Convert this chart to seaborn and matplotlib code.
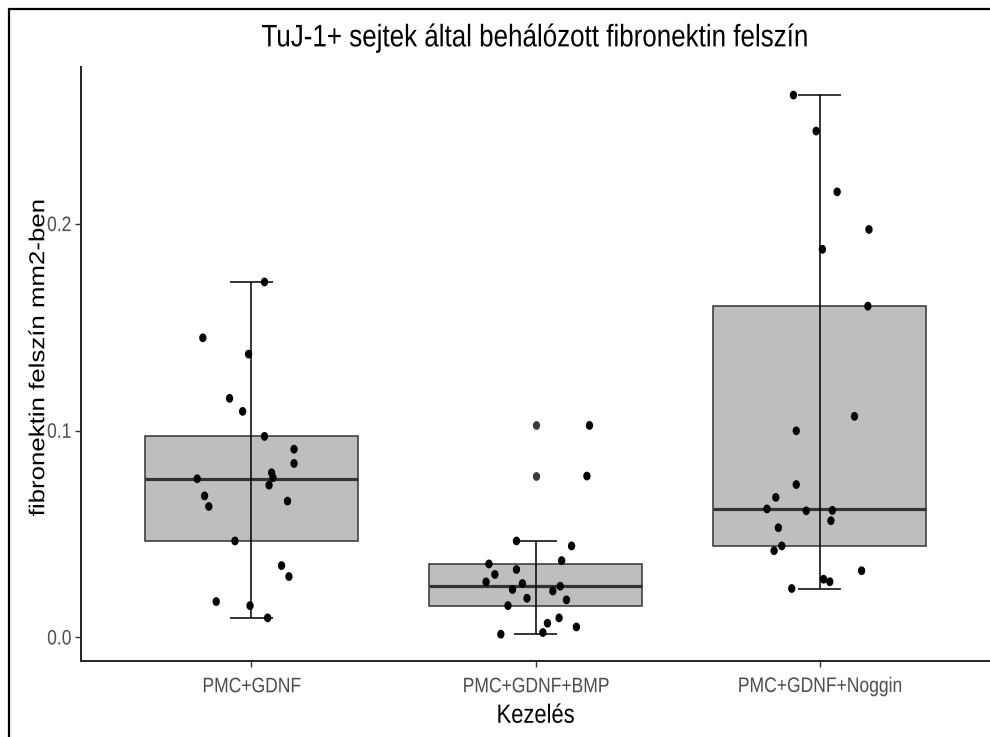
import numpy as np
import pandas as pd
import matplotlib
matplotlib.use("Agg")
import matplotlib.pyplot as plt
import matplotlib.path as mpath
import seaborn as sns
from matplotlib import cbook
from matplotlib.lines import Line2D
from matplotlib.patheffects import AbstractPathEffect
from matplotlib.transforms import Affine2D

# ---------------- data ----------------
categories = ["PMC+GDNF", "PMC+GDNF+BMP", "PMC+GDNF+Noggin"]

values_gdnf = [0.1719, 0.1449, 0.1370, 0.1156, 0.1093, 0.0972, 0.0910, 0.0841,
               0.0796, 0.0772, 0.0767, 0.0736, 0.0684, 0.0659, 0.0633, 0.0466,
               0.0347, 0.0294, 0.0173, 0.0153, 0.0094]
jitter_gdnf = [0.046, -0.171, -0.010, -0.077, -0.031, 0.046, 0.150, 0.150,
               0.071, 0.076, -0.191, 0.062, -0.165, 0.127, -0.150, -0.058,
               0.106, 0.132, -0.124, -0.005, 0.057]

values_bmp = [0.1025, 0.0780, 0.0466, 0.0442, 0.0371, 0.0355, 0.0328, 0.0304,
              0.0268, 0.0260, 0.0247, 0.0231, 0.0224, 0.0189, 0.0181, 0.0153,
              0.0094, 0.0068, 0.0050, 0.0015, 0.0023]
jitter_bmp = [0.190, 0.181, -0.067, 0.127, 0.092, -0.164, -0.067, -0.143,
              -0.174, -0.046, 0.087, -0.081, 0.061, -0.030, 0.109, -0.097,
              0.083, 0.042, 0.144, -0.122, 0.026]

values_noggin = [0.2623, 0.2449, 0.2155, 0.1973, 0.1877, 0.1602, 0.1069, 0.0999,
                 0.0739, 0.0677, 0.0621, 0.0612, 0.0614, 0.0564, 0.0530, 0.0442,
                 0.0419, 0.0322, 0.0281, 0.0269, 0.0236]
jitter_noggin = [-0.092, -0.012, 0.062, 0.174, 0.010, 0.170, 0.123, -0.082,
                 -0.082, -0.154, -0.185, -0.047, 0.045, 0.040, -0.145, -0.133,
                 -0.160, 0.148, 0.014, 0.036, -0.098]

title = "TuJ-1+ sejtek által behálózott fibronektin felszín"
xlabel = "Kezelés"
ylabel = "fibronektin felszín mm2-ben"
yticks = [0.0, 0.1, 0.2]
ytick_labels = ["0.0", "0.1", "0.2"]

# ---------------- table ----------------
groups = [values_gdnf, values_bmp, values_noggin]
jitters = [jitter_gdnf, jitter_bmp, jitter_noggin]
rows = []
for i, (cat, vals, jit) in enumerate(zip(categories, groups, jitters)):
    for v, j in zip(vals, jit):
        rows.append({"group": cat, "value": v, "xpos": i + j})
df = pd.DataFrame(rows)


# The reference picture is slightly stretched vertically; emulate this on text.
class VStretch(AbstractPathEffect):
    def __init__(self, sy=1.2):
        super().__init__()
        self.sy = sy

    def draw_path(self, renderer, gc, tpath, affine, rgbFace=None):
        ext = tpath.get_extents(affine)
        cy = 0.5 * (ext.y0 + ext.y1)
        extra = Affine2D().translate(0, -cy).scale(1, self.sy).translate(0, cy)
        renderer.draw_path(gc, tpath, affine + extra, rgbFace)


STRETCH = [VStretch(1.2)]

# slightly tall elliptical dot, like the reference
t = np.linspace(0, 2 * np.pi, 41)
dot = mpath.Path(np.column_stack([np.cos(t), 1.2 * np.sin(t)]), closed=True)

# ---------------- style ----------------
sns.set_theme(style="ticks")
plt.rcParams['font.family'] = ['Liberation Sans', 'DejaVu Sans']

W, H = 990, 737
fig = plt.figure(figsize=(W / 100, H / 100), dpi=100)
ax = fig.add_axes([81 / W, 1 - 661 / H, (990 - 81) / W, (661 - 67) / H])

edge = "#333333"
sns.boxplot(data=df, x="group", y="value", order=categories, color="#BEBEBE",
            saturation=1, width=0.75, whis=1.5, linecolor=edge, linewidth=1.1,
            showcaps=False, whiskerprops={"visible": False},
            medianprops={"linewidth": 2.3, "color": edge},
            flierprops={"marker": dot, "markerfacecolor": "#3a3a3a",
                        "markeredgecolor": "#3a3a3a", "markeredgewidth": 0,
                        "markersize": 6.3},
            ax=ax)

# errorbar-style whiskers (computed from the data)
for i, vals in enumerate(groups):
    st = cbook.boxplot_stats(np.asarray(vals), whis=1.5)[0]
    ax.vlines(i, st["whislo"], st["whishi"], color="black", lw=1.1, zorder=3)
    ax.hlines([st["whislo"], st["whishi"]], i - 0.075, i + 0.075,
              color="black", lw=1.1, zorder=3)

sns.scatterplot(data=df, x="xpos", y="value", color="black", s=40,
                marker=dot, edgecolor="none", linewidth=0, zorder=4,
                legend=False, ax=ax)

ax.set_xlim(-0.6, 2.6)
ax.set_ylim(-0.01147, 0.2759)
ax.set_xticks(range(len(categories)))
ax.set_xticklabels(categories)
ax.set_yticks(yticks)
ax.set_yticklabels(ytick_labels)
ax.tick_params(axis="both", colors="#333333", labelcolor="#4D4D4D",
               labelsize=12.6, length=4, width=1)
ax.tick_params(axis="x", pad=9)
ax.tick_params(axis="y", pad=3)
ax.set_xlabel(xlabel, fontsize=15.8, color="black", labelpad=8)
ax.set_ylabel(ylabel, fontsize=15.5, color="black")
ax.yaxis.set_label_coords(-0.035, 0.510)
for side in ["top", "right"]:
    ax.spines[side].set_visible(False)
for side in ["left", "bottom"]:
    ax.spines[side].set_color("#222222")
    ax.spines[side].set_linewidth(1.4)

ttl = fig.text((81 + 990) / 2 / W, 1 - 38 / H, title, ha="center", va="center",
               fontsize=18.7, color="black")

for txt in ax.get_xticklabels() + ax.get_yticklabels() + [ax.xaxis.label, ax.yaxis.label, ttl]:
    txt.set_path_effects(STRETCH)

# outer frame (top and left edges visible in the reference)
fig.add_artist(Line2D([9 / W, 1], [1 - 9 / H, 1 - 9 / H], color="black",
                      lw=1.6, transform=fig.transFigure))
fig.add_artist(Line2D([9 / W, 9 / W], [0, 1 - 9 / H], color="black",
                      lw=1.6, transform=fig.transFigure))

fig.savefig("out.png", dpi=100)
